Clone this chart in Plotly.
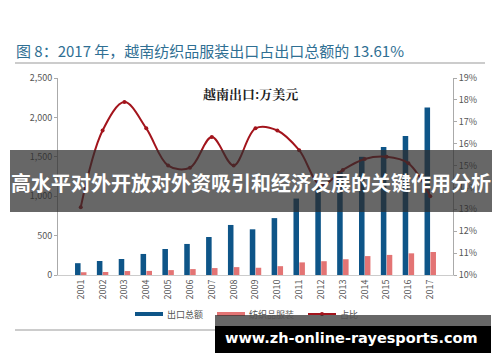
import plotly.graph_objects as go

years = [str(y) for y in range(2001, 2018)]
total_exports = [150, 178, 203, 267, 330, 394, 482, 635, 580, 722, 970, 1145, 1320, 1500, 1625, 1765, 2125]
textile_exports = [35, 38, 50, 52, 62, 75, 88, 100, 92, 112, 160, 175, 200, 240, 255, 275, 292]
share_pct = [13.1, 16.6, 17.9, 16.7, 15.0, 14.9, 16.3, 15.0, 16.7, 16.6, 15.7, 14.1, 14.8, 15.3, 15.4, 15.1, 13.6]

left_ticks = [0, 500, 1000, 1500, 2000, 2500]
left_labels = ["0", "500", "1,000", "1,500", "2,000", "2,500"]
right_ticks = list(range(10, 20))
right_labels = [f"{t}%" for t in right_ticks]

W, H = 500, 362
L, R, T, B = 58, 453, 78, 275


def px(x):
    return (x - L) / (R - L)


def py(y):
    return (B - y) / (B - T)


FONT = "Noto Sans CJK SC, Noto Sans, sans-serif"
BLUE = "#0e5588"
PINK = "#e37474"
RED = "#a3141c"

fig = go.Figure()
fig.add_trace(go.Bar(x=years, y=total_exports, name="出口总额", marker_color=BLUE,
                     marker_line_width=0))
fig.add_trace(go.Bar(x=years, y=textile_exports, name="纺织品服装", marker_color=PINK,
                     marker_line_width=0))
fig.add_trace(go.Scatter(x=years, y=share_pct, name="占比", yaxis="y2", mode="lines+markers",
                         line=dict(color=RED, width=2, shape="spline", smoothing=1.0),
                         marker=dict(color=RED, size=4)))

fig.update_layout(
    width=W, height=H,
    margin=dict(l=L, r=W - R, t=T, b=H - B),
    paper_bgcolor="white", plot_bgcolor="white",
    showlegend=False,
    barmode="group", bargap=0.46, bargroupgap=0.06,
    font=dict(family=FONT, size=9, color="#555555"),
    xaxis=dict(type="category", tickangle=-90, showgrid=False, showline=True,
               linecolor="#cccccc", linewidth=1, ticks="", tickfont=dict(size=9, color="#555555")),
    yaxis=dict(range=[0, 2500], tickvals=left_ticks, ticktext=left_labels, showgrid=False,
               showline=True, linecolor="#aaaaaa", linewidth=1, ticks="outside", ticklen=3,
               tickcolor="#aaaaaa", zeroline=False, tickfont=dict(size=9, color="#555555")),
    yaxis2=dict(range=[10, 19], tickvals=right_ticks, ticktext=right_labels, overlaying="y",
                side="right", showgrid=False, showline=True, linecolor="#aaaaaa", linewidth=1,
                ticks="outside", ticklen=3, tickcolor="#aaaaaa", zeroline=False,
                tickfont=dict(size=9, color="#555555")),
)

shapes = []
annotations = []

# title and rules
annotations.append(dict(x=px(14), y=py(50), xref="paper", yref="paper", xanchor="left",
                        yanchor="middle", showarrow=False,
                        text="图 8：2017 年，越南纺织品服装出口占出口总额的 13.61%",
                        font=dict(family=FONT, size=15, color="#2f6f93")))
shapes.append(dict(type="line", xref="paper", yref="paper", x0=px(15), x1=px(485),
                   y0=py(63), y1=py(63), line=dict(color="#999999", width=1.2)))
shapes.append(dict(type="line", xref="paper", yref="paper", x0=px(15), x1=px(485),
                   y0=py(330), y1=py(330), line=dict(color="#999999", width=1.2)))

# inner title
annotations.append(dict(x=px(250), y=py(93), xref="paper", yref="paper", xanchor="center",
                        yanchor="middle", showarrow=False, text="<b>越南出口:万美元</b>",
                        font=dict(family="Noto Serif CJK SC, Noto Sans CJK SC, serif", size=13,
                                  color="#222222")))

# legend
leg_y = py(314)
shapes.append(dict(type="line", xref="paper", yref="paper", x0=px(135), x1=px(163),
                   y0=leg_y, y1=leg_y, line=dict(color=BLUE, width=4)))
annotations.append(dict(x=px(165), y=leg_y, xref="paper", yref="paper", xanchor="left",
                        yanchor="middle", showarrow=False, text="出口总额",
                        font=dict(size=9, color="#555555")))
shapes.append(dict(type="line", xref="paper", yref="paper", x0=px(217), x1=px(245),
                   y0=leg_y, y1=leg_y, line=dict(color=PINK, width=4)))
annotations.append(dict(x=px(247), y=leg_y, xref="paper", yref="paper", xanchor="left",
                        yanchor="middle", showarrow=False, text="纺织品服装",
                        font=dict(size=9, color="#555555")))
shapes.append(dict(type="line", xref="paper", yref="paper", x0=px(308), x1=px(336),
                   y0=leg_y, y1=leg_y, line=dict(color=RED, width=2)))
shapes.append(dict(type="circle", xref="paper", yref="paper", x0=px(320), x1=px(324),
                   y0=py(316), y1=py(312), fillcolor=RED, line=dict(color=RED, width=0)))
annotations.append(dict(x=px(338), y=leg_y, xref="paper", yref="paper", xanchor="left",
                        yanchor="middle", showarrow=False, text="占比",
                        font=dict(size=9, color="#555555")))

# overlay banner
shapes.append(dict(type="rect", xref="paper", yref="paper", x0=px(10), x1=px(492),
                   y0=py(150), y1=py(212), fillcolor="rgba(45,45,45,0.72)",
                   line=dict(width=0), layer="above"))
annotations.append(dict(x=px(251), y=py(182), xref="paper", yref="paper", xanchor="center",
                        yanchor="middle", showarrow=False,
                        text="<b>高水平对外开放对外资吸引和经济发展的关键作用分析</b>",
                        font=dict(family=FONT, size=20, color="white")))

# watermark
shapes.append(dict(type="rect", xref="paper", yref="paper", x0=px(215), x1=px(491),
                   y0=py(315), y1=py(326), fillcolor="rgba(45,45,45,0.72)",
                   line=dict(width=0), layer="above"))
shapes.append(dict(type="rect", xref="paper", yref="paper", x0=px(215), x1=px(491),
                   y0=py(326), y1=py(353), fillcolor="black",
                   line=dict(width=0), layer="above"))
annotations.append(dict(x=px(351), y=py(338), xref="paper", yref="paper", xanchor="center",
                        yanchor="middle", showarrow=False,
                        text="<b>www.zh-online-rayesports.com</b>",
                        font=dict(family="DejaVu Sans, sans-serif", size=14.5, color="white")))

fig.update_layout(shapes=shapes, annotations=annotations)
fig.write_html("out.html")
